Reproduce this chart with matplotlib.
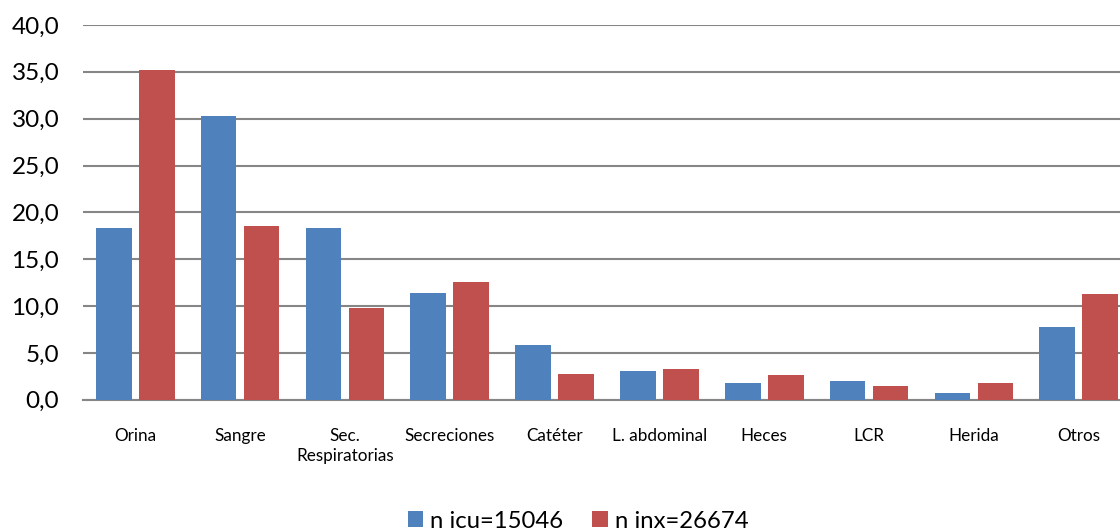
import matplotlib
matplotlib.use("Agg")
import matplotlib.pyplot as plt
import numpy as np

# data
categorias = ["Orina", "Sangre", "Sec.\nRespiratorias", "Secreciones", "Catéter",
              "L. abdominal", "Heces", "LCR", "Herida", "Otros"]
n_icu = [18.3, 30.3, 18.3, 11.4, 5.8, 3.1, 1.8, 2.0, 0.7, 7.8]
n_inx = [35.2, 18.6, 9.8, 12.6, 2.8, 3.3, 2.6, 1.5, 1.8, 11.3]
ticks_y = [0, 5, 10, 15, 20, 25, 30, 35, 40]

plt.rcParams['font.family'] = ['Lato', 'DejaVu Sans']

fig = plt.figure(figsize=(11.2, 5.31), dpi=100)
ax = fig.add_axes([0.074, 0.247, 0.936, 0.706])

x = np.arange(len(categorias))
w = 0.34
ax.bar(x - 0.205, n_icu, w, color="#4F81BD", label="n icu=15046", zorder=3)
ax.bar(x + 0.205, n_inx, w, color="#C0504D", label="n inx=26674", zorder=3)

ax.set_xlim(-0.5, len(categorias) - 0.5)
ax.set_ylim(0, 40)
ax.set_yticks(ticks_y)
ax.set_yticklabels([("%.1f" % t).replace(".", ",") for t in ticks_y], fontsize=17.5)
ax.set_xticks(x)
ax.set_xticklabels(categorias, fontsize=12.3, va="top", linespacing=1.35)
ax.tick_params(axis="both", length=0, colors="black")
ax.tick_params(axis="x", pad=20)
ax.tick_params(axis="y", pad=17)

ax.grid(axis="y", color="#868686", linewidth=1.5, zorder=0)
for s in ["top", "right", "left"]:
    ax.spines[s].set_visible(False)
ax.spines["bottom"].set_color("#868686")
ax.spines["bottom"].set_linewidth(1.5)

fig.legend(loc="lower center", bbox_to_anchor=(0.516, -0.042), ncol=2, frameon=False,
           fontsize=17.2, handlelength=0.65, handleheight=0.65, handletextpad=0.3,
           columnspacing=1.2)

fig.savefig("out.png", dpi=100)
